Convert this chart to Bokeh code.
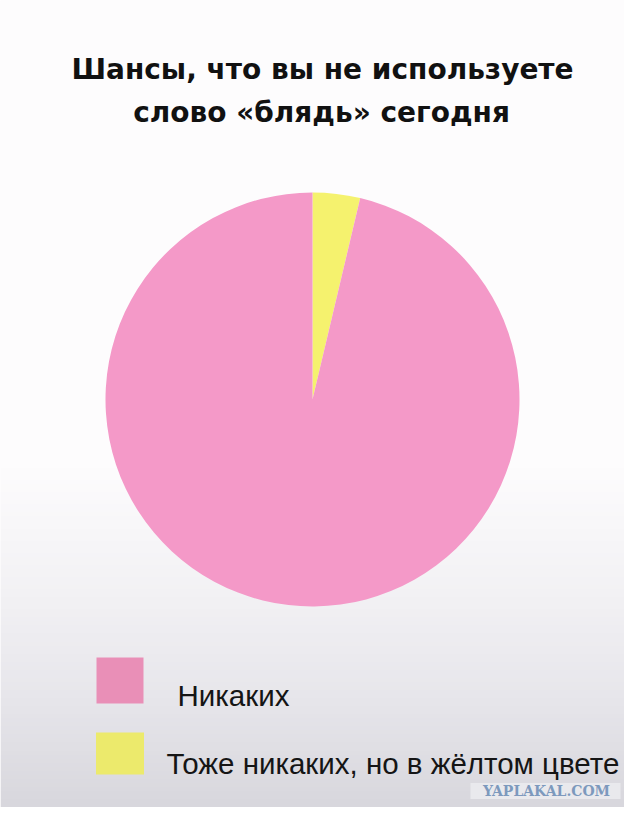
import numpy as np
from bokeh.plotting import figure
from bokeh.models import Range1d, ColumnDataSource
from bokeh.core.properties import value
from bokeh.embed import file_html
from bokeh.resources import INLINE

# ---- data ----
title_lines = ["Шансы, что вы не используете", "слово «блядь» сегодня"]
categories = ["Никаких", "Тоже никаких, но в жёлтом цвете"]
shares = [96.3, 3.7]
slice_colors = ["#f499c8", "#f5f26e"]
legend_colors = ["#e98fb7", "#ecea6c"]
watermark = "YAPLAKAL.COM"

W, H = 624, 807
# data coords: x = reference pixel x, y = 823 - reference pixel y
p = figure(width=W, height=H, output_backend="svg", toolbar_location=None,
           x_range=Range1d(0, 624), y_range=Range1d(16, 823),
           min_border=0, outline_line_color=None)
p.axis.visible = False
p.grid.visible = False
p.background_fill_color = "#fdfcfd"
p.border_fill_color = "#fdfcfd"

# background gradient (white to light grey toward the bottom)
N = 200
ys = np.linspace(16, 823, N)  # bottom to top
ref_y = 823 - ys
top = np.array([253, 252, 253], float)
stops = [(0, top), (470, top), (600, np.array([242, 241, 244.])),
         (700, np.array([231, 230, 235.])), (823, np.array([214, 213, 219.]))]
img = np.zeros((N, 1), dtype=np.uint32)
view = img.view(dtype=np.uint8).reshape((N, 1, 4))
for i, ry in enumerate(ref_y):
    for (a, ca), (b, cb) in zip(stops[:-1], stops[1:]):
        if a <= ry <= b:
            c = ca + (cb - ca) * (ry - a) / (b - a)
            break
    view[i, 0, 0] = int(c[0]); view[i, 0, 1] = int(c[1]); view[i, 0, 2] = int(c[2]); view[i, 0, 3] = 255
p.image_rgba(image=[img], x=0, y=16, dw=624, dh=807)

# ---- pie ----
cx, cy, r = 312, 823 - 399, 207
fr = np.array(shares) / sum(shares)
# clockwise from 12 o'clock: yellow first, then pink
cum = np.cumsum(np.concatenate([[0], fr[::-1]]))
start_angle = np.pi / 2 - cum[1:] * 2 * np.pi
end_angle = np.pi / 2 - cum[:-1] * 2 * np.pi
src = ColumnDataSource(dict(start=list(start_angle), end=list(end_angle),
                            color=slice_colors[::-1], name=categories[::-1]))
p.wedge(x=cx, y=cy, radius=r, start_angle="start", end_angle="end",
        fill_color="color", line_color=None, source=src)

# ---- title ----
p.text(x=[322, 321], y=[823 - 69, 823 - 112], text=title_lines,
       text_font=value("DejaVu Sans"), text_font_style="bold",
       text_font_size="28px", text_color="#111111",
       text_align="center", text_baseline="alphabetic")

# ---- legend ----
sq_x = [119.5, 119.5]
sq_y = [823 - 680, 823 - 753]
p.rect(x=sq_x, y=sq_y, width=[47, 48], height=[46, 42],
       fill_color=legend_colors, line_color=None)
p.text(x=[177, 166], y=[823 - 695, 823 - 763], text=categories,
       text_font=value("Liberation Sans"), text_font_size="29.5px",
       text_color="#151515", text_align="left", text_baseline="alphabetic")

# ---- watermark ----
p.rect(x=[545], y=[823 - 790.5], width=[150], height=[16],
       fill_color="#e9e9ed", line_color=None)
p.text(x=[546], y=[823 - 790.5], text=[watermark],
       text_font=value("DejaVu Serif"), text_font_style="bold",
       text_font_size="14px", text_color="#7d99bd",
       text_align="center", text_baseline="middle")

open("out.html", "w").write(file_html(p, INLINE))
